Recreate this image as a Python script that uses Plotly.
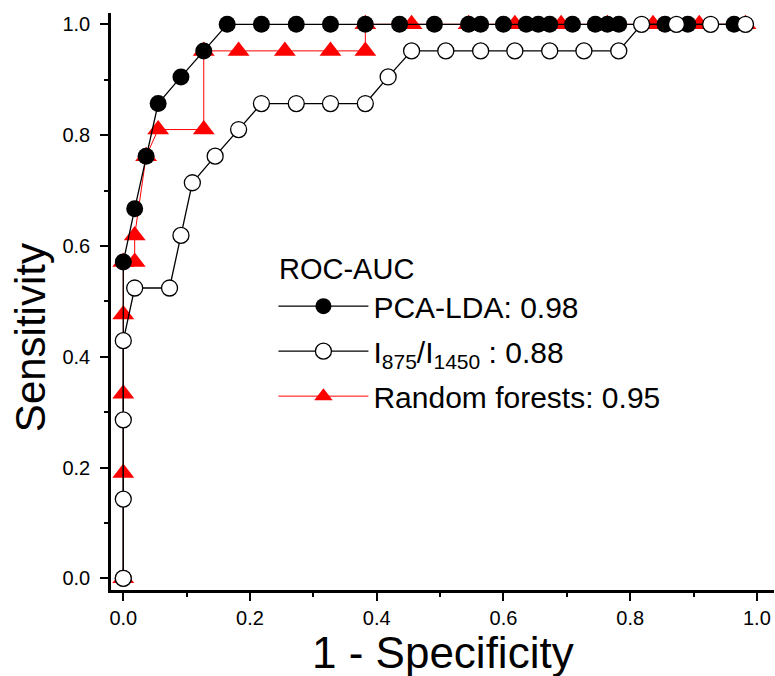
import plotly.graph_objects as go

# PCA-LDA ROC points (1 - specificity, sensitivity)
pca_fpr = [0.0, 0.0, 0.018, 0.036, 0.055, 0.091, 0.127, 0.164, 0.218, 0.273, 0.327, 0.382,
           0.436, 0.491, 0.545, 0.564, 0.600, 0.636, 0.655, 0.673, 0.709, 0.745, 0.764,
           0.782, 0.855, 0.891, 0.964]
pca_tpr = [0.0, 0.571, 0.667, 0.762, 0.857, 0.905, 0.952, 1.0, 1.0, 1.0, 1.0, 1.0,
           1.0, 1.0, 1.0, 1.0, 1.0, 1.0, 1.0, 1.0, 1.0, 1.0, 1.0,
           1.0, 1.0, 1.0, 1.0]

# I875/I1450 ratio ROC points
ratio_fpr = [0.0, 0.0, 0.0, 0.0, 0.018, 0.073, 0.091, 0.109, 0.145, 0.182, 0.218, 0.273,
             0.327, 0.382, 0.418, 0.455, 0.509, 0.564, 0.618, 0.673, 0.727, 0.782,
             0.818, 0.873, 0.927, 0.982]
ratio_tpr = [0.0, 0.143, 0.286, 0.429, 0.524, 0.524, 0.619, 0.714, 0.762, 0.810, 0.857, 0.857,
             0.857, 0.857, 0.905, 0.952, 0.952, 0.952, 0.952, 0.952, 0.952, 0.952,
             1.0, 1.0, 1.0, 1.0]

# Random forests ROC points
rf_fpr = [0.0, 0.0, 0.0, 0.0, 0.0, 0.018, 0.018, 0.036, 0.055, 0.127, 0.127, 0.182,
          0.255, 0.327, 0.382, 0.382, 0.455, 0.545, 0.618, 0.691, 0.764, 0.836, 0.909, 0.982]
rf_tpr = [0.0, 0.190, 0.333, 0.476, 0.571, 0.571, 0.619, 0.762, 0.810, 0.810, 0.952, 0.952,
          0.952, 0.952, 0.952, 1.0, 1.0, 1.0, 1.0, 1.0, 1.0, 1.0, 1.0, 1.0]

names = ["PCA-LDA: 0.98", "I<sub>875</sub>/I<sub>1450</sub> : 0.88", "Random forests: 0.95"]
legend_title = "ROC-AUC"
x_title = "1 - Specificity"
y_title = "Sensitivity"

FONT = "Liberation Sans, Arial, sans-serif"

fig = go.Figure()
fig.add_trace(go.Scatter(
    x=rf_fpr, y=rf_tpr, mode="lines+markers", name=names[2], legendrank=3, legendgroup="rf",
    line=dict(color="red", width=1),
    marker=dict(symbol="triangle-up", size=19, color="red", line=dict(width=0)),
))
fig.add_trace(go.Scatter(
    x=pca_fpr, y=pca_tpr, mode="lines+markers", name=names[0], legendrank=1, legendgroup="pca",
    line=dict(color="black", width=1.3),
    marker=dict(symbol="circle", size=17, color="black", line=dict(width=0)),
))
fig.add_trace(go.Scatter(
    x=ratio_fpr, y=ratio_tpr, mode="lines+markers", name=names[1], legendrank=2, legendgroup="ratio",
    line=dict(color="black", width=1.3),
    marker=dict(symbol="circle", size=16, color="white", line=dict(color="black", width=1.3)),
))

axis_common = dict(
    showline=True, linecolor="black", linewidth=2.5, mirror=False,
    ticks="outside", ticklen=8, tickwidth=2, tickcolor="black",
    showgrid=False, zeroline=False,
    tickfont=dict(family=FONT, size=20, color="black"),
    dtick=0.2, tickformat=".1f",
    minor=dict(dtick=0.1, ticks="outside", ticklen=4, tickwidth=2, tickcolor="black", showgrid=False),
)

fig.update_xaxes(range=[-0.0194, 1.027], **axis_common)
fig.update_yaxes(range=[-0.0211, 1.0204], ticklabelstandoff=6, **axis_common)

fig.update_layout(
    width=775, height=676,
    margin=dict(l=111, r=1, t=13, b=86),
    plot_bgcolor="white", paper_bgcolor="white",
    font=dict(family=FONT, color="black"),
    showlegend=True,
    legend=dict(
        font=dict(family=FONT, size=30, color="black"),
        x=0.245, y=0.537, xanchor="left", yanchor="top",
        bgcolor="rgba(0,0,0,0)", itemwidth=90, tracegroupgap=3,
    ),
    annotations=[
        dict(text=legend_title, xref="paper", yref="paper", x=0.2504, y=0.556,
             xanchor="left", yanchor="middle", showarrow=False,
             font=dict(family=FONT, size=29, color="black")),
        dict(text=x_title, xref="paper", yref="paper", x=0.5, y=-0.1075,
             xanchor="center", yanchor="middle", showarrow=False,
             font=dict(family=FONT, size=44, color="black")),
        dict(text=y_title, xref="paper", yref="paper", x=-0.122, y=0.4367,
             xanchor="center", yanchor="middle", showarrow=False, textangle=-90,
             font=dict(family=FONT, size=42, color="black")),
    ],
)

fig.write_html("out.html")
